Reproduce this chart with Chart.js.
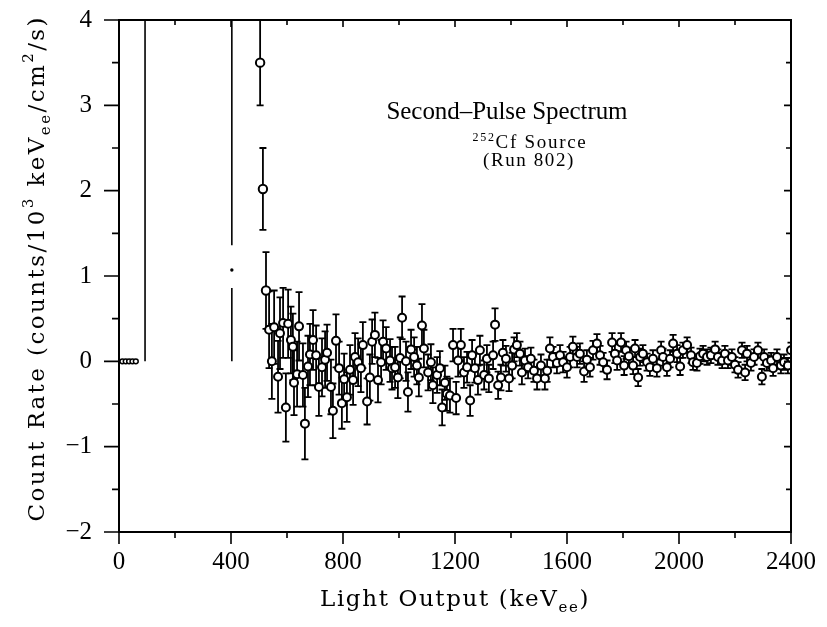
<!DOCTYPE html>
<html>
<head>
<meta charset="utf-8">
<script src="https://cdn.jsdelivr.net/npm/chart.js@4.4.1/dist/chart.umd.min.js"></script>
<style>
html, body { margin: 0; padding: 0; background: #fff; }
</style>
</head>
<body>
<canvas id="spectrum" width="827" height="627"></canvas>
<script>
// tick values
const xTicks = [0, 400, 800, 1200, 1600, 2000, 2400];
const xMinorTicks = [200, 600, 1000, 1400, 1800, 2200];
const yTicks = [-2, -1, 0, 1, 2, 3, 4];
const yMinorTicks = [-1.5, -0.5, 0.5, 1.5, 2.5, 3.5];

// low-energy points sitting at zero
const lowX = [12, 24, 36, 48, 60];
const lowY = [0, 0, 0, 0, 0];

// off-scale bars (keV, from, to)
const spikeLines = [[93, 0, 4], [403, 0, 0.86], [403, 1.36, 4]];
const dotX = [403];
const dotY = [1.07];

// first large points
const peakX = [504, 514, 525];
const peakY = [3.50, 2.02, 0.83];
const peakErr = [0.50, 0.48, 0.45];

// main cloud of points
const cloudX = [
  536,546,554,568,575,586,596,604,614,621,
  625,636,643,657,664,675,682,693,704,714,
  725,736,743,757,764,775,786,796,804,814,
  825,836,843,854,864,871,886,896,904,914,
  925,936,943,954,968,975,986,996,1004,1011,
  1025,1032,1043,1054,1064,1071,1082,1089,1104,1114,
  1121,1136,1146,1154,1164,1171,1182,1193,1204,1211,
  1221,1232,1243,1254,1261,1271,1282,1289,1304,1314,
  1321,1336,1343,1354,1364,1371,1382,1393,1404,1411,
  1421,1432,1439,1450,1461,1471,1482,1493,1507,1521,
  1529,1539,1550,1564,1575,1586,1600,1611,1621,1636,
  1646,1661,1671,1682,1693,1707,1718,1729,1743,1761,
  1771,1779,1793,1804,1811,1821,1836,1843,1854,1861,
  1871,1886,1896,1907,1921,1936,1943,1957,1968,1979,
  1993,2004,2014,2029,2043,2050,2064,2075,2086,2100,
  2114,2129,2139,2154,2164,2175,2189,2200,2211,2225,
  2236,2243,2257,2268,2282,2296,2304,2314,2329,2336,
  2350,2364,2375,2389,2400];
const cloudY = [
  0.37,0.00,0.40,-0.18,0.33,0.45,-0.54,0.44,0.25,0.17,
  -0.25,-0.15,0.41,-0.16,-0.73,-0.06,0.08,0.25,0.07,-0.30,
  -0.07,0.02,0.10,-0.30,-0.58,0.24,-0.08,-0.49,-0.21,-0.42,
  -0.10,-0.22,0.05,-0.01,-0.08,0.19,-0.47,-0.19,0.23,0.31,
  -0.22,-0.01,0.23,0.15,0.01,-0.08,-0.07,-0.19,0.04,0.51,
  0.00,-0.36,0.14,0.05,-0.05,-0.19,0.42,0.15,-0.13,-0.01,
  -0.28,-0.16,-0.08,-0.54,-0.25,-0.38,-0.40,0.19,-0.43,0.01,
  0.19,-0.13,-0.07,-0.46,0.07,-0.08,-0.22,0.13,-0.16,0.03,
  -0.20,0.07,0.43,-0.28,-0.19,0.10,0.03,-0.20,-0.05,0.14,
  0.19,0.09,-0.13,0.01,-0.07,0.03,-0.11,-0.20,-0.05,-0.20,
  -0.11,0.15,0.05,-0.02,0.07,-0.01,-0.07,0.05,0.17,0.05,
  0.09,-0.12,0.02,-0.07,0.13,0.21,0.07,-0.01,-0.10,0.22,
  0.09,0.01,0.22,-0.05,0.13,0.06,-0.05,0.15,-0.19,0.05,
  0.09,-0.01,-0.07,0.03,-0.08,0.13,0.05,-0.07,0.03,0.21,
  0.09,-0.06,0.13,0.19,0.07,-0.01,-0.02,0.06,0.09,0.05,
  0.07,0.14,0.05,0.01,0.09,0.01,0.05,-0.04,-0.10,0.13,
  -0.13,0.09,-0.02,0.05,0.13,-0.18,0.05,-0.02,0.01,-0.08,
  0.05,-0.05,-0.01,-0.05,0.13];
const cloudErr = [
  0.45,0.44,0.43,0.42,0.42,0.41,0.40,0.40,0.39,0.39,
  0.38,0.38,0.40,0.37,0.42,0.36,0.36,0.35,0.35,0.34,
  0.34,0.33,0.33,0.32,0.32,0.31,0.31,0.30,0.30,0.29,
  0.29,0.29,0.28,0.28,0.28,0.27,0.27,0.27,0.26,0.26,
  0.26,0.26,0.25,0.25,0.25,0.25,0.24,0.24,0.24,0.25,
  0.23,0.23,0.23,0.23,0.22,0.22,0.25,0.22,0.21,0.21,
  0.21,0.21,0.20,0.21,0.20,0.20,0.20,0.19,0.19,0.19,
  0.19,0.18,0.18,0.18,0.18,0.17,0.17,0.17,0.17,0.16,
  0.16,0.16,0.19,0.16,0.15,0.15,0.15,0.15,0.15,0.14,
  0.14,0.14,0.14,0.14,0.13,0.13,0.13,0.13,0.13,0.13,
  0.13,0.13,0.12,0.12,0.12,0.12,0.12,0.12,0.12,0.12,
  0.12,0.12,0.11,0.11,0.11,0.11,0.11,0.11,0.11,0.11,
  0.11,0.11,0.11,0.11,0.10,0.10,0.10,0.10,0.10,0.10,
  0.10,0.10,0.10,0.10,0.10,0.10,0.10,0.10,0.10,0.10,
  0.10,0.10,0.09,0.09,0.09,0.09,0.09,0.09,0.09,0.09,
  0.09,0.09,0.09,0.09,0.09,0.09,0.09,0.09,0.09,0.09,
  0.09,0.09,0.09,0.09,0.09,0.09,0.09,0.09,0.09,0.09,
  0.09,0.09,0.09,0.09,0.09];

const SERIF = '"Liberation Serif", "Times New Roman", serif';
const WIDE_SERIF = '"DejaVu Serif", "Liberation Serif", serif';

function pts(xs, ys) {
  return xs.map((v, i) => ({x: v, y: ys[i]}));
}

// draw text made of pieces (super/subscripts), stretched to a target length
function richText(ctx, parts, cx, cy, angle, target, family) {
  family = family || SERIF;
  ctx.save();
  ctx.translate(cx, cy);
  ctx.rotate(angle);
  ctx.textBaseline = 'alphabetic';
  ctx.textAlign = 'left';
  ctx.fillStyle = '#000';
  let w = 0, n = 0;
  parts.forEach(p => {
    ctx.font = p.size + 'px ' + family;
    w += ctx.measureText(p.t).width;
    n += p.t.length;
  });
  const sp = target ? (target - w) / n : 0;
  let xx = -(w + sp * n) / 2;
  parts.forEach(p => {
    ctx.font = p.size + 'px ' + family;
    for (const ch of p.t) {
      ctx.fillText(ch, xx, p.dy || 0);
      xx += ctx.measureText(ch).width + sp;
    }
  });
  ctx.restore();
}

const errorBars = {
  id: 'errorBars',
  beforeDatasetsDraw(chart) {
    const {ctx, chartArea: a, scales: {x, y}} = chart;
    ctx.save();
    ctx.beginPath();
    ctx.rect(a.left, a.top, a.right - a.left, a.bottom - a.top);
    ctx.clip();
    ctx.strokeStyle = '#000';
    ctx.lineWidth = 1.6;
    spikeLines.forEach(s => {
      const px = x.getPixelForValue(s[0]);
      ctx.beginPath();
      ctx.moveTo(px, y.getPixelForValue(s[1]));
      ctx.lineTo(px, y.getPixelForValue(s[2]));
      ctx.stroke();
    });
    ctx.lineWidth = 1.8;
    chart.data.datasets.forEach(ds => {
      if (!ds.errs) return;
      ds.data.forEach((p, i) => {
        const px = x.getPixelForValue(p.x);
        const top = y.getPixelForValue(p.y + ds.errs[i]);
        const bot = y.getPixelForValue(p.y - ds.errs[i]);
        ctx.beginPath();
        ctx.moveTo(px, top); ctx.lineTo(px, bot);
        ctx.moveTo(px - 3.5, top); ctx.lineTo(px + 3.5, top);
        ctx.moveTo(px - 3.5, bot); ctx.lineTo(px + 3.5, bot);
        ctx.stroke();
      });
    });
    ctx.restore();
  }
};

const frame = {
  id: 'frame',
  afterDraw(chart) {
    const {ctx, chartArea: a, scales: {x, y}} = chart;
    ctx.save();
    ctx.strokeStyle = '#000';
    ctx.lineWidth = 2;
    ctx.strokeRect(a.left, a.top, a.right - a.left, a.bottom - a.top);
    ctx.lineWidth = 1.6;
    ctx.beginPath();
    // left: outward, right: inward
    yTicks.forEach(v => {
      const py = y.getPixelForValue(v);
      ctx.moveTo(a.left - 15, py); ctx.lineTo(a.left, py);
      ctx.moveTo(a.right, py); ctx.lineTo(a.right - 7, py);
    });
    yMinorTicks.forEach(v => {
      const py = y.getPixelForValue(v);
      ctx.moveTo(a.left - 7, py); ctx.lineTo(a.left, py);
      ctx.moveTo(a.right, py); ctx.lineTo(a.right - 5, py);
    });
    // bottom: outward, top: inward
    xTicks.forEach(v => {
      const px = x.getPixelForValue(v);
      ctx.moveTo(px, a.bottom); ctx.lineTo(px, a.bottom + 12);
      ctx.moveTo(px, a.top); ctx.lineTo(px, a.top + 7);
    });
    xMinorTicks.forEach(v => {
      const px = x.getPixelForValue(v);
      ctx.moveTo(px, a.bottom); ctx.lineTo(px, a.bottom + 6);
      ctx.moveTo(px, a.top); ctx.lineTo(px, a.top + 5);
    });
    ctx.stroke();
    ctx.restore();

    // axis titles
    richText(ctx, [
      {t: 'Light Output (keV', size: 23},
      {t: 'ee', size: 15, dy: 6},
      {t: ')', size: 23}
    ], (a.left + a.right) / 2, 606, 0, 270, WIDE_SERIF);
    richText(ctx, [
      {t: 'Count Rate (counts/10', size: 23},
      {t: '3', size: 15, dy: -11},
      {t: ' keV', size: 23},
      {t: 'ee', size: 15, dy: 6},
      {t: '/cm', size: 23},
      {t: '2', size: 15, dy: -11},
      {t: '/s)', size: 23}
    ], 44, (a.top + a.bottom) / 2 - 8, -Math.PI / 2, 507, WIDE_SERIF);

    // annotation
    richText(ctx, [{t: 'Second\u2013Pulse Spectrum', size: 25}], 507, 119, 0, 241);
    richText(ctx, [
      {t: '252', size: 12, dy: -7},
      {t: 'Cf Source', size: 19}
    ], 530, 148, 0, 115);
    richText(ctx, [{t: '(Run 802)', size: 19}], 529, 166, 0, 92);
  }
};

function noPad(s) {
  s.paddingTop = 0;
  s.paddingBottom = 0;
  s.paddingLeft = 0;
  s.paddingRight = 0;
}

new Chart(document.getElementById('spectrum'), {
  type: 'scatter',
  data: {
    datasets: [
      {
        data: pts(cloudX, cloudY), errs: cloudErr,
        pointRadius: 4, pointBackgroundColor: '#fff',
        pointBorderColor: '#000', pointBorderWidth: 2
      },
      {
        data: pts(peakX, peakY), errs: peakErr,
        pointRadius: 4.2, pointBackgroundColor: '#fff',
        pointBorderColor: '#000', pointBorderWidth: 2
      },
      {
        data: pts(lowX, lowY),
        pointRadius: 2.4, pointBackgroundColor: '#fff',
        pointBorderColor: '#000', pointBorderWidth: 1.5
      },
      {
        data: pts(dotX, dotY),
        pointRadius: 1.7, pointBackgroundColor: '#000',
        pointBorderColor: '#000', pointBorderWidth: 0
      }
    ]
  },
  options: {
    responsive: false,
    animation: false,
    devicePixelRatio: 1,
    layout: {padding: {top: 20, right: 36, left: 0, bottom: 0}},
    plugins: {legend: {display: false}, tooltip: {enabled: false}},
    scales: {
      x: {
        type: 'linear', min: 0, max: 2400,
        afterBuildTicks: s => { s.ticks = xTicks.map(v => ({value: v})); },
        afterFit: s => { s.height = 95; noPad(s); },
        grid: {display: false}, border: {display: false},
        ticks: {color: '#000', padding: 7, maxRotation: 0, autoSkip: false,
                font: {family: SERIF, size: 25},
                callback: v => String(v)}
      },
      y: {
        type: 'linear', min: -2, max: 4,
        afterBuildTicks: s => { s.ticks = yTicks.map(v => ({value: v})); },
        afterFit: s => { s.width = 119; noPad(s); },
        grid: {display: false}, border: {display: false},
        ticks: {color: '#000', padding: 19,
                font: {family: SERIF, size: 25},
                callback: v => v < 0 ? '\u2212' + Math.abs(v) : String(v)}
      }
    }
  },
  plugins: [errorBars, frame]
});
</script>
</body>
</html>
